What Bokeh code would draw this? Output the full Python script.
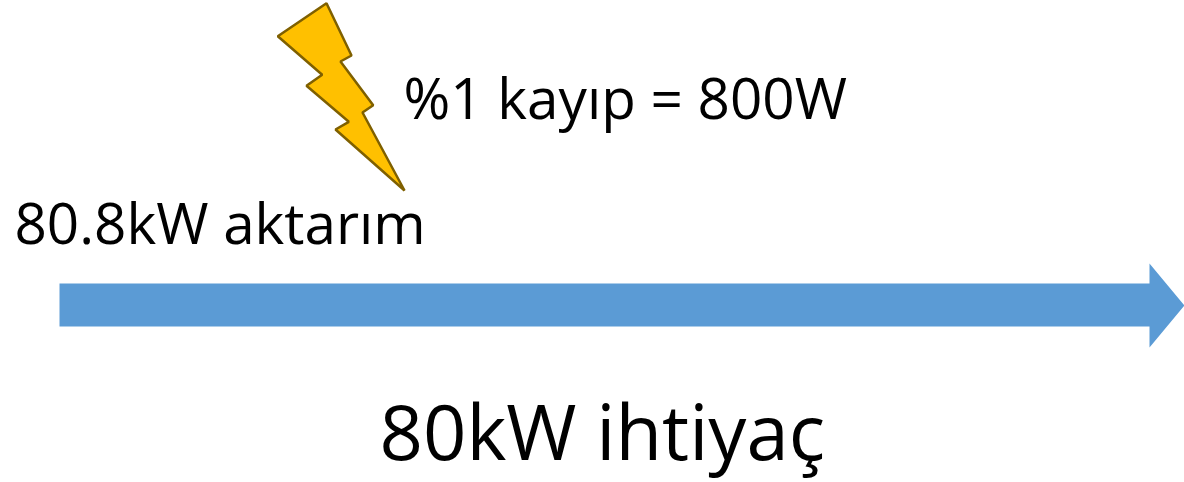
from bokeh.plotting import figure
from bokeh.models import Range1d
from bokeh.core.properties import value
from bokeh.embed import file_html
from bokeh.resources import INLINE

W, H = 1184, 482
arrow_x = [59, 1149, 1149, 1184, 1149, 1149, 59]
arrow_y = [283, 283, 263, 305, 347, 326, 326]
bolt_x = [326, 351, 340, 372.7, 362, 404, 335, 348.3, 306, 321.7, 277.3]
bolt_y = [2.7, 55, 61, 104.7, 112, 190, 129, 121.3, 85.3, 74.3, 35.7]
labels = ["%1 kayıp = 800W", "80.8kW aktarım", "80kW ihtiyaç"]
label_x = [403, 14, 379]
label_y = [97, 222, 430]
label_size = ["56.6px", "56.6px", "76px"]

p = figure(width=W, height=H, output_backend="svg", toolbar_location=None,
           x_range=Range1d(0, W), y_range=Range1d(H, 0),
           min_border=0, outline_line_color=None, margin=(0, 0, 0, 0))
p.axis.visible = False
p.grid.visible = False
p.patch(arrow_x, arrow_y, fill_color="#5B9BD5", line_color=None)
p.patch(bolt_x, bolt_y, fill_color="#FFC000", line_color="#7F6000", line_width=2.5)
for t, x, y, s in zip(labels, label_x, label_y, label_size):
    p.text([x], [y], text=[t], text_font=value("Open Sans"), text_font_size=value(s),
           text_color="#000000", text_align="left", text_baseline="middle")
open("out.html", "w").write(file_html(p, INLINE))
